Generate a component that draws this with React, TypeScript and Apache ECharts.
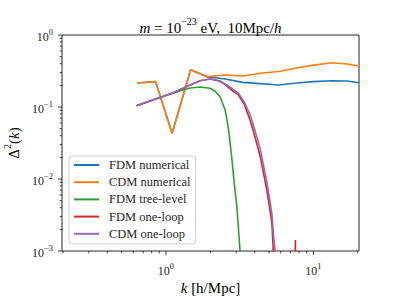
import React, { useEffect, useRef } from 'react';
import * as echarts from 'echarts';

// numerical spectra (k in h/Mpc)
const K_NUM = [0.638, 0.851, 1.10, 1.47, 1.91, 2.52, 3.32, 4.36, 5.80, 7.74, 10.0, 13.4, 16.9, 20.4];
const FDM_NUM = [0.215, 0.225, 0.0432, 0.330, 0.261, 0.245, 0.220, 0.211, 0.202, 0.215, 0.225, 0.232, 0.230, 0.217];
const CDM_NUM = [0.215, 0.225, 0.0432, 0.330, 0.264, 0.278, 0.270, 0.294, 0.311, 0.349, 0.382, 0.412, 0.396, 0.371];

// tree level
const K_TREE = [0.632, 0.85, 1.12, 1.30, 1.46, 1.70, 1.99, 2.15, 2.33, 2.52, 2.65, 2.79, 2.90, 3.02, 3.10, 3.18, 3.30];
const FDM_TREE = [0.104, 0.129, 0.155, 0.172, 0.184, 0.190, 0.182, 0.167, 0.138, 0.091, 0.051, 0.0205, 0.0090, 0.0043, 0.0021, 0.0010, 0.0003];

// one loop
const K_LOOP = [0.632, 0.85, 1.12, 1.46, 1.70, 1.99, 2.33, 2.52, 2.79, 3.10, 3.39, 3.72, 4.02, 4.36, 4.59, 4.83, 5.04, 5.23, 5.36, 5.50, 5.70, 6.5, 7.45, 7.55, 7.65, 9.0];
const FDM_LOOP = [0.104, 0.129, 0.158, 0.202, 0.232, 0.245, 0.228, 0.205, 0.172, 0.147, 0.110, 0.066, 0.0383, 0.0204, 0.0121, 0.00703, 0.00408, 0.00243, 0.0009, 0.0003, 0.0001, 0.00001, 0.00001, 0.00142, 0.00001, 0.00001];
const CDM_LOOP = [0.104, 0.129, 0.158, 0.202, 0.232, 0.245, 0.230, 0.209, 0.182, 0.155, 0.118, 0.078, 0.047, 0.026, 0.0155, 0.0092, 0.0054, 0.0033, 0.0017, 0.0010, 0.0005];

const SERIES_NAMES = ['FDM numerical', 'CDM numerical', 'FDM tree-level', 'FDM one-loop', 'CDM one-loop'];
const COLORS = ['#1f77b4', '#ff7f0e', '#2ca02c', '#d62728', '#9467bd'];

const X_MIN = 0.197;
const X_MAX = 20.4;
const Y_MIN = 0.001;
const Y_MAX = 1;
const X_MAJOR = [1, 10];
const X_MINOR = [0.2, 0.3, 0.4, 0.5, 0.6, 0.7, 0.8, 0.9, 2, 3, 4, 5, 6, 7, 8, 9, 20];
const Y_MAJOR = [0.001, 0.01, 0.1, 1];
const Y_MINOR = [0.002, 0.003, 0.004, 0.005, 0.006, 0.007, 0.008, 0.009, 0.02, 0.03, 0.04, 0.05, 0.06, 0.07, 0.08, 0.09, 0.2, 0.3, 0.4, 0.5, 0.6, 0.7, 0.8, 0.9];

const FONT = '"Liberation Serif", "DejaVu Serif", serif';
const INK = '#262626';

const zip = (k: number[], v: number[]) => v.map((y, i) => [k[i], y]);

const powLabel = (v: number) => {
  const e = Math.log10(v);
  const r = Math.round(e);
  if (Math.abs(e - r) > 1e-6) return '';
  const s = r < 0 ? '\u2212' + Math.abs(r) : String(r);
  return `{b|10}{s|${s}}`;
};

const tickRich = {
  b: { fontFamily: FONT, fontSize: 12, color: INK, lineHeight: 16, verticalAlign: 'bottom' },
  s: { fontFamily: FONT, fontSize: 8.5, color: INK, lineHeight: 9, verticalAlign: 'top' },
};

export default function App() {
  const ref = useRef<HTMLDivElement>(null);
  useEffect(() => {
    if (!ref.current) return;
    const chart = echarts.init(ref.current, null, { renderer: 'svg' });
    const seriesData = [
      zip(K_NUM, FDM_NUM),
      zip(K_NUM, CDM_NUM),
      zip(K_TREE, FDM_TREE),
      zip(K_LOOP, FDM_LOOP),
      zip(K_LOOP, CDM_LOOP),
    ];
    chart.setOption({
      animation: false,
      grid: { left: 62, right: 40, top: 35, bottom: 48, show: true, borderColor: INK, borderWidth: 1, backgroundColor: 'transparent' },
      xAxis: {
        type: 'log', logBase: 10, min: X_MIN, max: X_MAX,
        axisLine: { show: false }, axisTick: { show: false }, splitLine: { show: false },
        axisLabel: { formatter: powLabel, rich: tickRich, margin: 10, showMinLabel: false, showMaxLabel: false },
      },
      yAxis: {
        type: 'log', logBase: 10, min: Y_MIN, max: Y_MAX,
        axisLine: { show: false }, axisTick: { show: false }, splitLine: { show: false },
        axisLabel: { formatter: powLabel, rich: tickRich, margin: 9 },
      },
      legend: {
        left: 69, top: 156, orient: 'vertical',
        icon: 'rect', itemWidth: 25, itemHeight: 2, itemGap: 3.2,
        padding: [2, 5, 3, 5],
        backgroundColor: 'rgba(255,255,255,0.8)', borderColor: '#cccccc', borderWidth: 1, borderRadius: 3,
        textStyle: { fontFamily: FONT, fontSize: 12.5, color: INK, lineHeight: 14, padding: [0, 0, 0, 5] },
        data: SERIES_NAMES,
      },
      series: SERIES_NAMES.map((name, i) => ({
        name, type: 'line', data: seriesData[i], showSymbol: false, symbol: 'none',
        lineStyle: { color: COLORS[i], width: 1.6 }, itemStyle: { color: COLORS[i] },
        clip: true, z: 2 + i,
      })),
    });

    const px = (v: number) => chart.convertToPixel({ xAxisIndex: 0 }, v) as number;
    const py = (v: number) => chart.convertToPixel({ yAxisIndex: 0 }, v) as number;
    const bottom = py(Y_MIN);
    const left = px(X_MIN);
    const g: any[] = [];
    const tick = (x1: number, y1: number, x2: number, y2: number) =>
      g.push({ type: 'line', silent: true, shape: { x1, y1, x2, y2 }, style: { stroke: INK, lineWidth: 0.9 } });
    X_MAJOR.forEach(v => { const x = px(v); tick(x, bottom, x, bottom + 4); });
    X_MINOR.forEach(v => { const x = px(v); tick(x, bottom, x, bottom + 2.3); });
    Y_MAJOR.forEach(v => { const y = py(v); tick(left, y, left - 4, y); });
    Y_MINOR.forEach(v => { const y = py(v); tick(left, y, left - 2.3, y); });

    const cx = (left + px(X_MAX)) / 2;
    const cy = (bottom + py(Y_MAX)) / 2;
    g.push({
      type: 'text', silent: true,
      style: {
        x: cx, y: 26, align: 'center', verticalAlign: 'middle',
        text: '{i|m}{n| = 10}{s|\u221223}{n| eV,  10Mpc/}{i|h}',
        rich: {
          i: { fontFamily: FONT, fontStyle: 'italic', fontSize: 15, color: INK, lineHeight: 19, verticalAlign: 'bottom' },
          n: { fontFamily: FONT, fontSize: 15, color: INK, lineHeight: 19, verticalAlign: 'bottom' },
          s: { fontFamily: FONT, fontSize: 10, color: INK, lineHeight: 10, verticalAlign: 'top' },
        },
      },
    });
    g.push({
      type: 'text', silent: true,
      style: {
        x: cx, y: 288, align: 'center', verticalAlign: 'middle',
        text: '{i|k}{n| [h/Mpc]}',
        rich: {
          i: { fontFamily: FONT, fontStyle: 'italic', fontSize: 15, color: INK },
          n: { fontFamily: FONT, fontSize: 15, color: INK },
        },
      },
    });
    g.push({
      type: 'text', silent: true, x: 12, y: cy, rotation: Math.PI / 2,
      style: {
        x: 0, y: 0, align: 'center', verticalAlign: 'middle',
        text: '{n|\u0394}{s|2}{n|(}{i|k}{n|)}',
        rich: {
          i: { fontFamily: FONT, fontStyle: 'italic', fontSize: 15, color: INK, lineHeight: 19, verticalAlign: 'bottom' },
          n: { fontFamily: FONT, fontSize: 15, color: INK, lineHeight: 19, verticalAlign: 'bottom' },
          s: { fontFamily: FONT, fontSize: 10, color: INK, lineHeight: 10, verticalAlign: 'top' },
        },
      },
    });
    chart.setOption({ graphic: g });
    return () => chart.dispose();
  }, []);
  return <div ref={ref} style={{ position: 'fixed', left: 0, top: 0, width: 399, height: 299, background: '#fff' }} />;
}
